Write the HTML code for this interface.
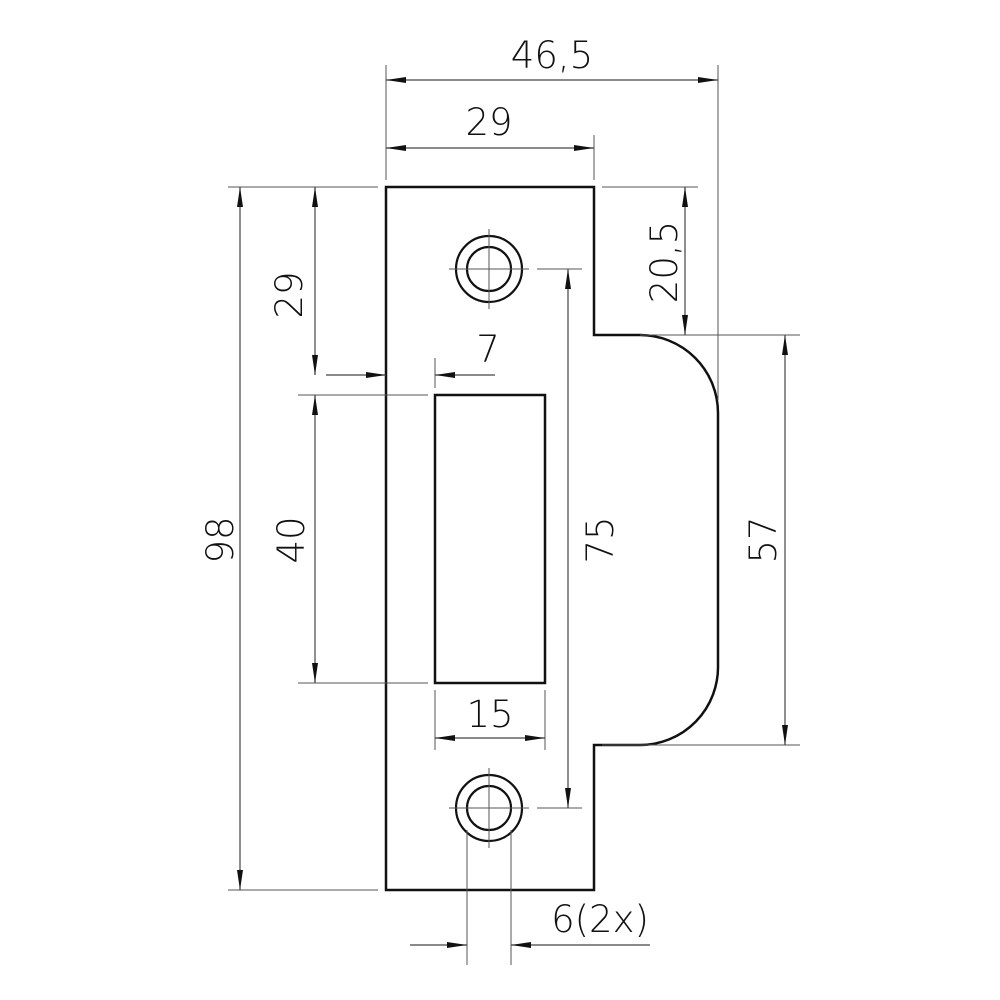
<!DOCTYPE html>
<html><head><meta charset="utf-8"><style>html,body{margin:0;padding:0;background:#fff}svg{display:block}text{font-family:"DejaVu Sans","Liberation Sans",sans-serif;font-size:37px;fill:#111;font-weight:300}</style></head>
<body>
<svg width="1000" height="1000" viewBox="0 0 1000 1000" xmlns="http://www.w3.org/2000/svg">
<defs>
<marker id="a" viewBox="0 0 20 8" refX="20" refY="4" markerWidth="20" markerHeight="8" markerUnits="userSpaceOnUse" orient="auto-start-reverse"><path d="M0,1 L20,4 L0,7 Z" fill="#111"/></marker>
</defs>
<path d="M386,187 H594 V335 H640 A78,78 0 0 1 718,413 V665 A78,78 0 0 1 640,745 H594 V890 H386 Z" fill="none" stroke="#111" stroke-width="2.5"/>
<rect x="435" y="395" width="110" height="288" fill="none" stroke="#111" stroke-width="2.5"/>
<g fill="none" stroke="#111" stroke-width="2.2">
<circle cx="489" cy="269" r="33"/><circle cx="489" cy="269" r="22"/>
<circle cx="489" cy="808" r="33"/><circle cx="489" cy="808" r="22"/>
</g>
<g stroke="#555" stroke-width="1" fill="none">
<path d="M449,269H529M489,229V309M449,808H529M489,768V848"/>
<path d="M386,65V180M718,65V400M594,135V180"/>
<path d="M228,187H378M602,187H698M640,335H800M228,890H378M602,745H800"/>
<path d="M298,395H428M298,683H428"/>
<path d="M537,269H582M537,808H582"/>
<path d="M435,358V388M435,690V750M545,690V750"/>
<path d="M467,830V965M511,830V965"/>
</g>
<g stroke="#444" stroke-width="1.2" fill="none">
<line x1="386" y1="80" x2="718" y2="80" marker-start="url(#a)" marker-end="url(#a)"/>
<line x1="386" y1="148" x2="594" y2="148" marker-start="url(#a)" marker-end="url(#a)"/>
<line x1="240" y1="187" x2="240" y2="890" marker-start="url(#a)" marker-end="url(#a)"/>
<line x1="315" y1="187" x2="315" y2="375" marker-start="url(#a)" marker-end="url(#a)"/>
<line x1="315" y1="395" x2="315" y2="683" marker-start="url(#a)" marker-end="url(#a)"/>
<line x1="685" y1="187" x2="685" y2="335" marker-start="url(#a)" marker-end="url(#a)"/>
<line x1="568" y1="269" x2="568" y2="808" marker-start="url(#a)" marker-end="url(#a)"/>
<line x1="785" y1="335" x2="785" y2="745" marker-start="url(#a)" marker-end="url(#a)"/>
<line x1="435" y1="738" x2="545" y2="738" marker-start="url(#a)" marker-end="url(#a)"/>
<line x1="326" y1="375" x2="386" y2="375" marker-end="url(#a)"/>
<line x1="495" y1="375" x2="435" y2="375" marker-end="url(#a)"/>
<line x1="410" y1="945" x2="467" y2="945" marker-end="url(#a)"/>
<line x1="650" y1="945" x2="511" y2="945" marker-end="url(#a)"/>
</g>
<text x="552" y="68" text-anchor="middle">46,5</text>
<text x="489" y="135" text-anchor="middle">29</text>
<text x="488" y="362" text-anchor="middle">7</text>
<text x="490" y="727" text-anchor="middle">15</text>
<text x="600" y="932" text-anchor="middle">6(2x)</text>
<text transform="translate(302,295) rotate(-90)" text-anchor="middle">29</text>
<text transform="translate(233,540) rotate(-90)" text-anchor="middle">98</text>
<text transform="translate(304,540) rotate(-90)" text-anchor="middle">40</text>
<text transform="translate(613,540) rotate(-90)" text-anchor="middle">75</text>
<text transform="translate(776,540) rotate(-90)" text-anchor="middle">57</text>
<text transform="translate(677,262) rotate(-90)" text-anchor="middle">20,5</text>
</svg>
</body></html>
